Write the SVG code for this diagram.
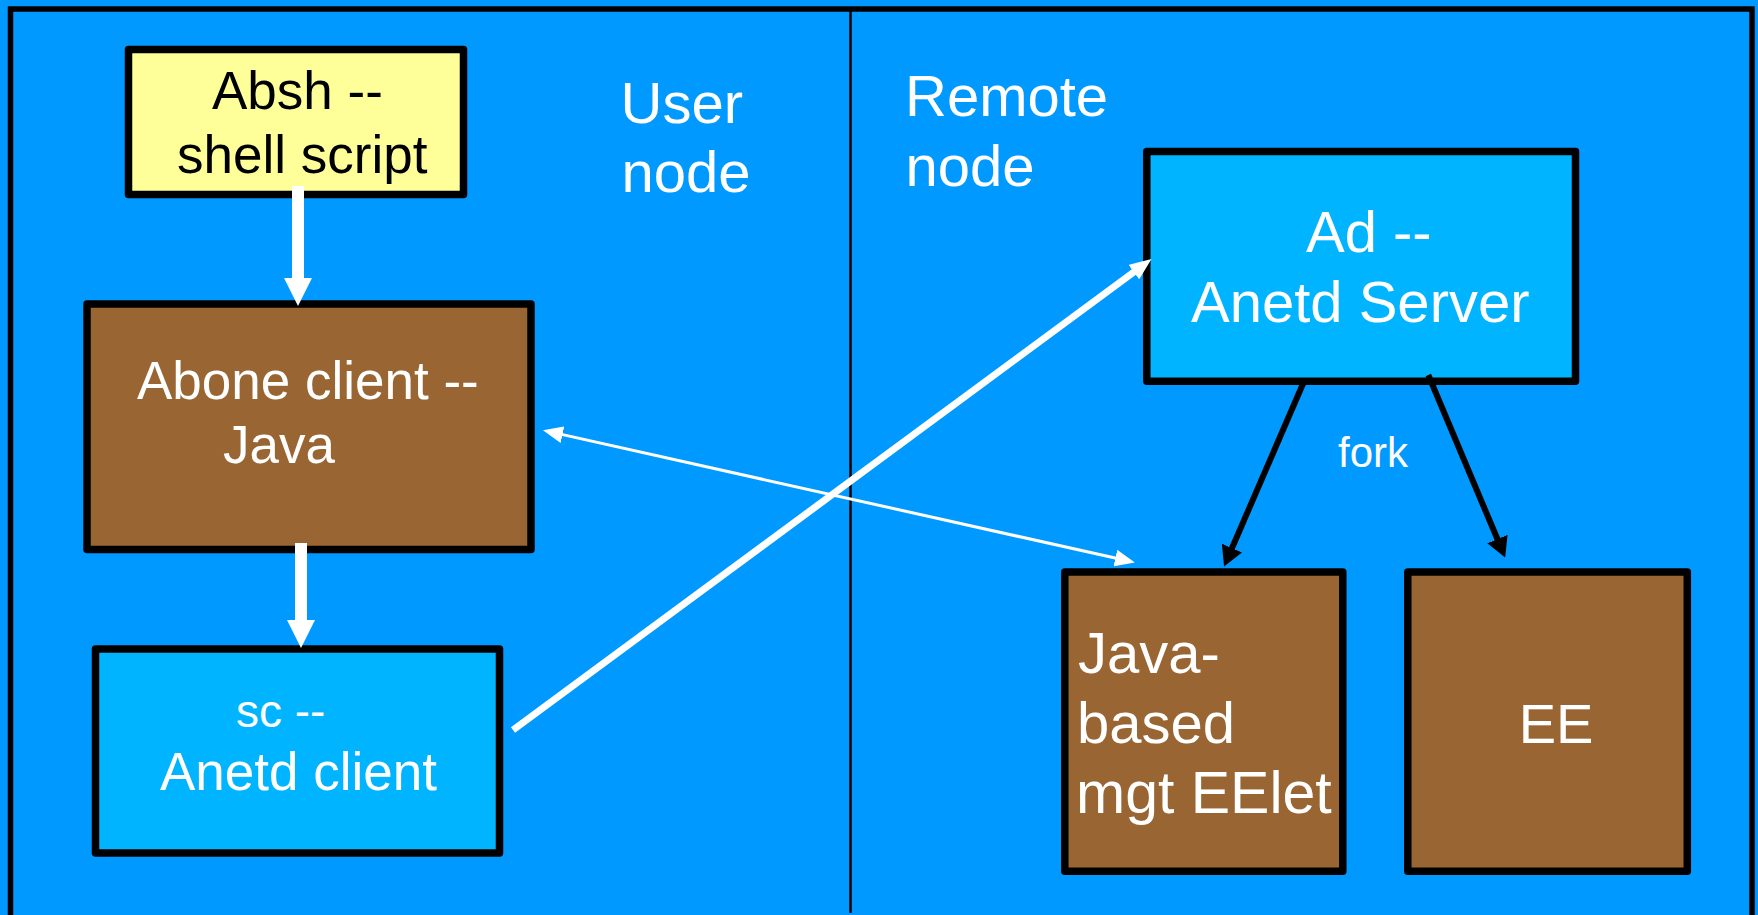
<svg xmlns="http://www.w3.org/2000/svg" width="1758" height="915" viewBox="0 0 1758 915">
<style>
.t{font-family:"Liberation Sans",Arial,Helvetica,sans-serif;}
.w{fill:#FFFFFF;}
.k{fill:#000000;}
.box{stroke:#000;stroke-width:7.5;stroke-linejoin:round;}
.yel{fill:#FFFF99;}
.brn{fill:#996633;}
.cyn{fill:#00B4FF;}
</style>
<defs>
<marker id="hw-big" markerUnits="userSpaceOnUse" viewBox="0 0 28 28" markerWidth="28" markerHeight="28" refX="1" refY="14" orient="auto"><path d="M0,0 L28,14 L0,28 Z" fill="#FFFFFF"/></marker>
<marker id="hw-mid" markerUnits="userSpaceOnUse" viewBox="0 0 22 18" markerWidth="22" markerHeight="18" refX="1" refY="9" orient="auto"><path d="M0,0 L22,9 L0,18 Z" fill="#FFFFFF"/></marker>
<marker id="hw-thin" markerUnits="userSpaceOnUse" viewBox="0 0 20 17" markerWidth="20" markerHeight="17" refX="1" refY="8.5" orient="auto-start-reverse"><path d="M0,0 L20,8.5 L0,17 Z" fill="#FFFFFF"/></marker>
<marker id="hk" markerUnits="userSpaceOnUse" viewBox="0 0 20 22" markerWidth="20" markerHeight="22" refX="1" refY="11" orient="auto"><path d="M0,0 L20,11 L0,22 Z" fill="#000000"/></marker>
</defs>
<rect x="0" y="0" width="1758" height="915" fill="#0099FF"/>
<rect x="10.5" y="9" width="1741.5" height="940" fill="none" stroke="#000" stroke-width="5.5"/>
<line x1="850.5" y1="9" x2="850.5" y2="913" stroke="#000" stroke-width="2.5"/>
<text class="t w" x="620.5" y="122.7" font-size="58">User</text>
<text class="t w" x="621.5" y="192.3" font-size="58">node</text>
<text class="t w" x="905" y="115.7" font-size="58">Remote</text>
<text class="t w" x="905.5" y="185.7" font-size="58">node</text>
<g id="absh">
<rect class="box yel" x="128.5" y="49.5" width="335" height="145"/>
<text class="t k" x="212" y="109" font-size="53">Absh --</text>
<text class="t k" x="177" y="173" font-size="53">shell script</text>
</g>
<g id="abone">
<rect class="box brn" x="87" y="304" width="444" height="245.5"/>
<text class="t w" x="137" y="399" font-size="53">Abone client --</text>
<text class="t w" x="223" y="463" font-size="53">Java</text>
</g>
<g id="sc">
<rect class="box cyn" x="95.5" y="649" width="404" height="204"/>
<text class="t w" x="236" y="727" font-size="46">sc --</text>
<text class="t w" x="160" y="790" font-size="53">Anetd client</text>
</g>
<g id="ad">
<rect class="box cyn" x="1146.8" y="151.5" width="428.7" height="229.7"/>
<text class="t w" x="1306" y="252.3" font-size="58">Ad --</text>
<text class="t w" x="1191" y="321.7" font-size="58">Anetd Server</text>
</g>
<g id="javamgt">
<rect class="box brn" x="1064.8" y="572" width="278" height="299.3"/>
<text class="t w" x="1078" y="673.3" font-size="58">Java-</text>
<text class="t w" x="1077" y="743.3" font-size="58">based</text>
<text class="t w" x="1076" y="813.3" font-size="59">mgt EElet</text>
</g>
<g id="ee">
<rect class="box brn" x="1407.8" y="572" width="279.5" height="299.3"/>
<text class="t w" x="1556" y="743.3" font-size="56" text-anchor="middle">EE</text>
</g>
<g id="connectors">
<line x1="298" y1="186" x2="298" y2="279" stroke="#FFFFFF" stroke-width="12" marker-end="url(#hw-big)"/>
<line x1="301" y1="543" x2="301" y2="621" stroke="#FFFFFF" stroke-width="12" marker-end="url(#hw-big)"/>
<line x1="513" y1="730" x2="1134.6" y2="271.5" stroke="#FFFFFF" stroke-width="7" marker-end="url(#hw-mid)"/>
<line x1="561.5" y1="434.4" x2="1116.3" y2="558.3" stroke="#FFFFFF" stroke-width="3" marker-start="url(#hw-thin)" marker-end="url(#hw-thin)"/>
<text class="t w" x="1338" y="466.5" font-size="42">fork</text>
<line x1="1303.3" y1="383" x2="1231.6" y2="549" stroke="#000" stroke-width="6" marker-end="url(#hk)"/>
<line x1="1428.3" y1="375" x2="1497.8" y2="540" stroke="#000" stroke-width="6" marker-end="url(#hk)"/>
</g>
</svg>
